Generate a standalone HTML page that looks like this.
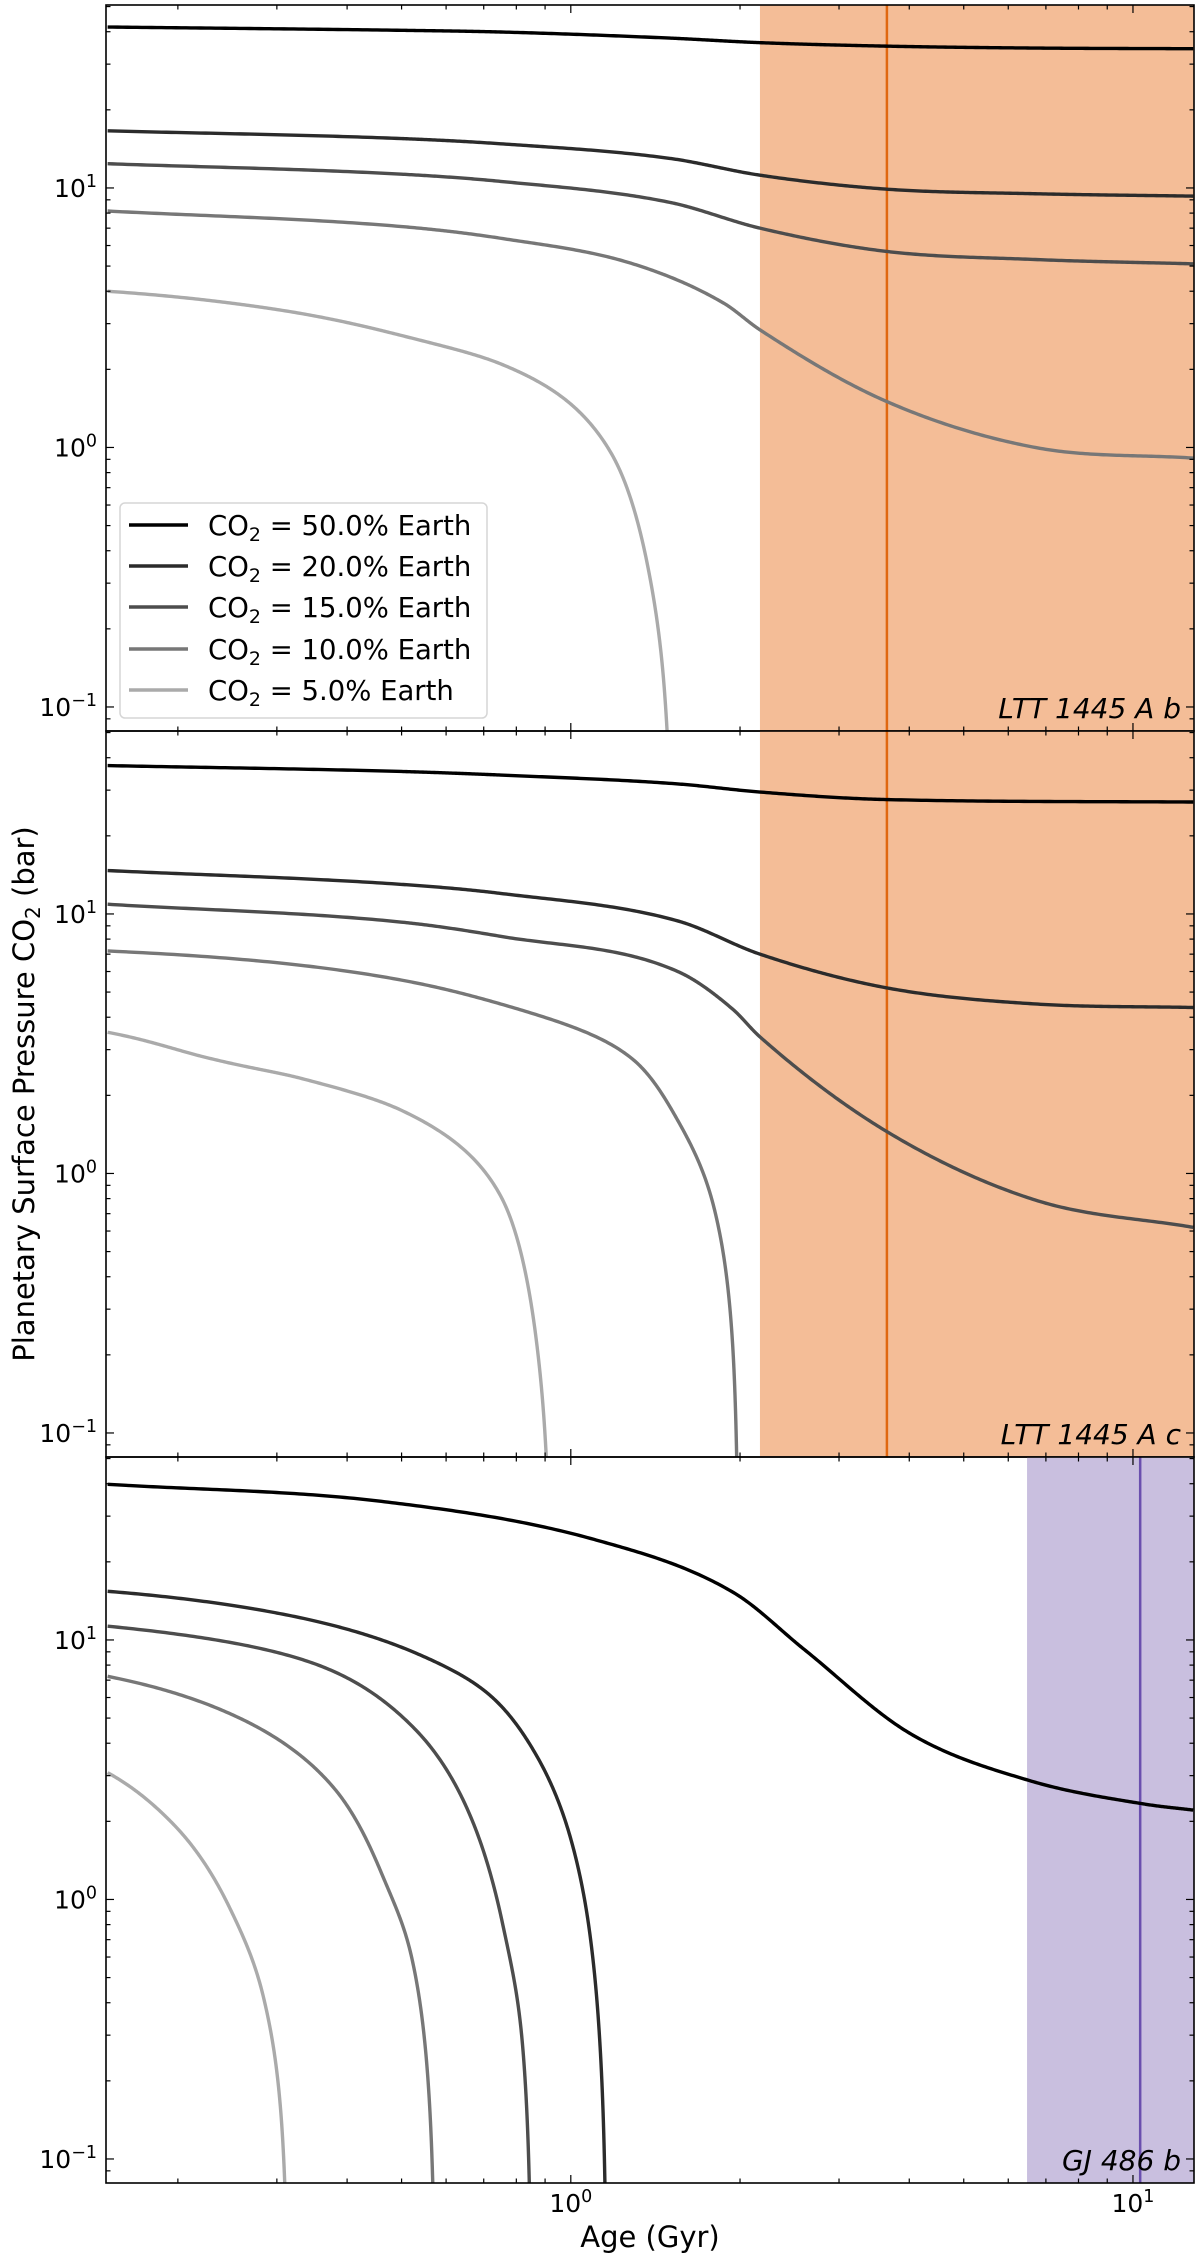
<!DOCTYPE html>
<html><head><meta charset="utf-8"><style>
html,body{margin:0;padding:0;background:#fff;width:1200px;height:2258px;overflow:hidden;}
svg{display:block;font-family:"DejaVu Sans","Liberation Sans",sans-serif;}
</style></head><body>
<svg id="chart" width="1200" height="2258" viewBox="0 0 1200 2258" xmlns="http://www.w3.org/2000/svg"></svg>
<script>
// ---- data ----
const panelNames = ["LTT 1445 A b", "LTT 1445 A c", "GJ 486 b"];
const seriesLabels = ["50.0%", "20.0%", "15.0%", "10.0%", "5.0%"];
const seriesColors = ["#000000", "#2b2b2b", "#4d4d4d", "#777777", "#aaaaaa"];
// Panel 1: LTT 1445 A b
const p1Ages = [
  [0.15,0.5,0.75,1.5,2.17,3.63,6.7,12.8],
  [0.15,0.5,0.75,1.5,2.17,3.63,6.7,12.8],
  [0.15,0.5,0.75,1.5,2.17,3.63,6.7,12.8],
  [0.15,0.5,0.75,1.29,1.87,2.17,3.63,6.7,12.8],
  [0.15,0.3,0.5,0.75,0.985,1.18,1.37,1.47,1.52]
];
const p1Vals = [
  [41.7,40.5,39.9,37.8,36.3,35.2,34.6,34.4],
  [16.6,15.5,14.8,13.0,11.2,9.9,9.5,9.3],
  [12.4,11.3,10.6,8.8,7.0,5.7,5.3,5.1],
  [8.15,7.1,6.4,5.1,3.6,2.84,1.51,1.0,0.91],
  [4.0,3.4,2.7,2.1,1.51,0.95,0.35,0.11,0.005]
];
// Panel 2: LTT 1445 A c
const p2Ages = [
  [0.15,0.5,0.75,1.55,2.17,3.63,12.8],
  [0.15,0.5,0.75,1.55,2.17,3.63,6.7,12.8],
  [0.15,0.5,0.75,1.55,1.94,2.17,3.63,6.7,12.8],
  [0.15,0.5,0.75,1.29,1.55,1.8,1.94,1.99],
  [0.15,0.22,0.33,0.5,0.75,0.87,0.924]
];
const p2Vals = [
  [37.3,35.4,34.3,31.7,29.5,27.6,27.0],
  [14.7,13.0,12.0,9.4,7.0,5.2,4.5,4.36],
  [10.9,9.3,8.2,6.0,4.3,3.36,1.46,0.79,0.62],
  [7.2,5.56,4.5,2.75,1.6,0.73,0.22,0.005],
  [3.5,2.83,2.33,1.75,0.82,0.22,0.005]
];
// Panel 3: GJ 486 b
const p3Ages = [
  [0.15,0.46,1.1,1.95,2.6,4.0,6.55,10.5,12.8],
  [0.15,0.3,0.53,0.71,0.87,1.0,1.08,1.12,1.15,1.16],
  [0.15,0.35,0.53,0.67,0.755,0.82,0.845,0.853],
  [0.15,0.26,0.38,0.46,0.52,0.56,0.575],
  [0.15,0.195,0.246,0.284,0.305,0.315]
];
const p3Vals = [
  [39.8,34.2,24.4,15.2,9.2,4.38,2.87,2.33,2.21],
  [15.4,12.7,8.9,6.25,3.57,1.71,0.75,0.34,0.08,0.005],
  [11.3,8.1,4.5,1.98,0.82,0.28,0.07,0.005],
  [7.24,4.95,2.67,1.27,0.61,0.17,0.005],
  [3.08,1.98,0.95,0.42,0.15,0.005]
];
const spanStart = [2.17, 2.17, 6.48];
const markerAge = [3.65, 3.65, 10.3];
const spanColors = ["#f4bd97", "#f4bd97", "#c9bfdf"];
const markerColors = ["#e0670f", "#e0670f", "#6a4fae"];
const yTickVals = [0.1, 1, 10];
const yTickExp = ["\u22121", "0", "1"];
const xTickVals = [1, 10];
const xTickExp = ["0", "1"];

// ---- geometry ----
const NS = "http://www.w3.org/2000/svg";
const svg = document.getElementById("chart");
const X0 = 106, X1 = 1194, XMIN = 0.149, XMAX = 12.84;
const PTOPS = [5, 731, 1457], PH = 726, YMIN = 0.0808, YMAX = 50.7;
function xs(a){ return X0 + (Math.log10(a)-Math.log10(XMIN))/(Math.log10(XMAX)-Math.log10(XMIN))*(X1-X0); }
function ys(v, top){ return top + (Math.log10(YMAX)-Math.log10(Math.max(v,0.06)))/(Math.log10(YMAX)-Math.log10(YMIN))*PH; }
function mk(tag, attrs, parent){ const e=document.createElementNS(NS,tag); for(const k in attrs) e.setAttribute(k, attrs[k]); (parent||svg).appendChild(e); return e; }

function monoSlopes(x,y){
  const n=x.length, d=[], m=new Array(n);
  for(let i=0;i<n-1;i++) d.push((y[i+1]-y[i])/(x[i+1]-x[i]));
  m[0]=d[0]; m[n-1]=d[n-2];
  for(let i=1;i<n-1;i++){ m[i]=(d[i-1]*d[i]<=0)?0:(d[i-1]+d[i])/2; }
  for(let i=0;i<n-1;i++){
    if(d[i]===0){m[i]=0;m[i+1]=0;continue;}
    const a=m[i]/d[i], b=m[i+1]/d[i], s=a*a+b*b;
    if(s>9){const t=3/Math.sqrt(s); m[i]=t*a*d[i]; m[i+1]=t*b*d[i];}
  }
  return m;
}
function curvePath(ages, vals, top){
  const drop = vals[vals.length-1] < 0.05;
  const x = drop ? ages.slice() : ages.map(a=>Math.log10(a));
  const y = drop ? vals.slice() : vals.map(v=>Math.log10(v));
  const m = monoSlopes(x,y), n=x.length;
  let out="";
  for(let i=0;i<n-1;i++){
    const h=x[i+1]-x[i], N=60;
    for(let k=(i===0?0:1);k<=N;k++){
      const t=k/N, t2=t*t, t3=t2*t;
      const yy=(2*t3-3*t2+1)*y[i]+(t3-2*t2+t)*h*m[i]+(-2*t3+3*t2)*y[i+1]+(t3-t2)*h*m[i+1];
      const xx=x[i]+t*h;
      const age = drop ? xx : Math.pow(10,xx);
      const val = drop ? yy : Math.pow(10,yy);
      out += (out?" L":"M")+xs(age).toFixed(2)+","+ys(val,top).toFixed(2);
    }
  }
  return out;
}

const allAges=[p1Ages,p2Ages,p3Ages], allVals=[p1Vals,p2Vals,p3Vals];
const defs = mk("defs",{});
for(let p=0;p<3;p++){
  const top=PTOPS[p];
  const cp = mk("clipPath",{id:"clip"+p}, defs);
  mk("rect",{x:X0,y:top,width:X1-X0,height:PH}, cp);
  const g = mk("g",{"clip-path":"url(#clip"+p+")"});
  
  
  const span = mk("rect",{x:xs(spanStart[p]),y:top,width:X1-xs(spanStart[p]),height:PH,fill:spanColors[p]}, g);
  
  
  const ml = mk("line",{x1:xs(markerAge[p]),x2:xs(markerAge[p]),y1:top,y2:top+PH,stroke:markerColors[p],"stroke-width":2.5}, g);
  
  
  for(let s=4;s>=0;s--){
    const path = mk("path",{d:curvePath(allAges[p][s], allVals[p][s], top),fill:"none",stroke:seriesColors[s],"stroke-width":3.4,"stroke-linejoin":"round"}, g);
    
    
  }
  const tg = mk("g",{stroke:"#000","stroke-width":1.2});
  
  
  for(let e=-1;e<=1;e++){
    for(let m=1;m<=9;m++){
      const a=m*Math.pow(10,e); if(a<XMIN||a>XMAX) continue;
      const x=xs(a), L=(m===1)?8:4.5;
      mk("line",{x1:x,x2:x,y1:top+PH,y2:top+PH-L},tg);
      mk("line",{x1:x,x2:x,y1:top,y2:top+L},tg);
    }
  }
  for(let e=-2;e<=1;e++){
    for(let m=1;m<=9;m++){
      const v=m*Math.pow(10,e); if(v<YMIN||v>YMAX) continue;
      const y=ys(v,top), L=(m===1)?8:4.5;
      mk("line",{x1:X0,x2:X0+L,y1:y,y2:y},tg);
      mk("line",{x1:X1,x2:X1-L,y1:y,y2:y},tg);
    }
  }
  yTickVals.forEach((v,i)=>{
    const t = mk("text",{x:97,y:ys(v,top)+9,"text-anchor":"end","font-size":25,fill:"#000"});
    
    
    t.innerHTML = '10<tspan dy="-10" font-size="17.5">'+yTickExp[i]+'</tspan>';
  });
  const fr = mk("rect",{x:X0,y:top,width:X1-X0,height:PH,fill:"none",stroke:"#000","stroke-width":1.6});
  
  
  const lab = mk("text",{x:1181,y:top+713,"text-anchor":"end","font-size":28,"font-style":"italic",fill:"#000"});
  
  
  lab.textContent = panelNames[p];
}
xTickVals.forEach((a,i)=>{
  const t = mk("text",{x:xs(a),y:2212,"text-anchor":"middle","font-size":25,fill:"#000"});
  
  
  t.innerHTML = '10<tspan dy="-10" font-size="17.5">'+xTickExp[i]+'</tspan>';
});
const xt = mk("text",{x:(X0+X1)/2,y:2247,"text-anchor":"middle","font-size":29,fill:"#000"});


xt.textContent = "Age (Gyr)";
const yt = mk("text",{x:0,y:0,"text-anchor":"middle","font-size":29,fill:"#000",transform:"translate(34,1094) rotate(-90)"});


yt.innerHTML = 'Planetary Surface Pressure CO<tspan dy="6" font-size="20">2</tspan><tspan dy="-6"> (bar)</tspan>';

const lg = mk("g",{});


mk("rect",{x:120,y:503,width:367,height:215,rx:5,fill:"#fff","fill-opacity":0.85,stroke:"#d6d6d6","stroke-width":1.5},lg);
const rowY=[525,566,607,649,690];
seriesLabels.forEach((lbl,i)=>{
  const ln = mk("line",{x1:129,x2:188,y1:rowY[i],y2:rowY[i],stroke:seriesColors[i],"stroke-width":3.4},lg);
  
  
  const t = mk("text",{x:208,y:rowY[i]+10,"font-size":27.5,fill:"#000"},lg);
  
  
  t.innerHTML = 'CO<tspan dy="6" font-size="19">2</tspan><tspan dy="-6"> = '+lbl+' Earth</tspan>';
});
</script>
</body></html>
